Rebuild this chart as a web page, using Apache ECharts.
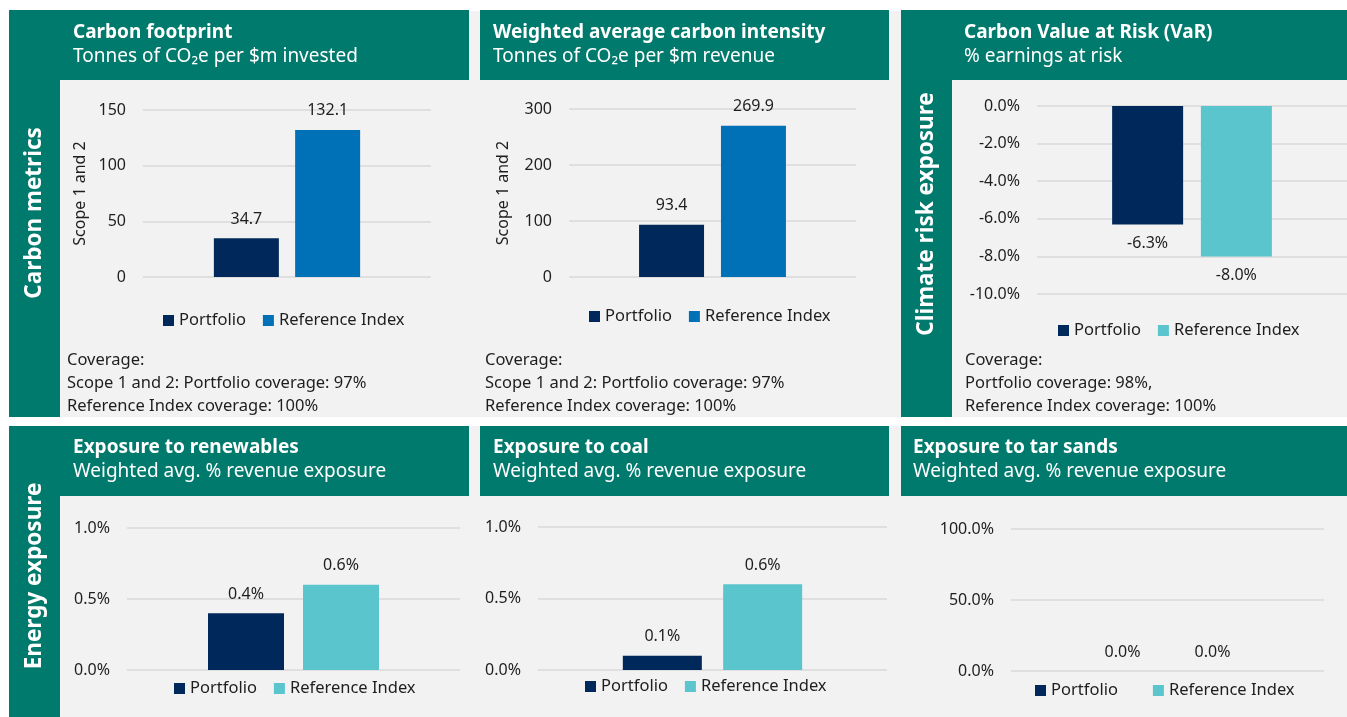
<!DOCTYPE html>
<html>
<head>
<meta charset="utf-8">
<script src="https://cdn.jsdelivr.net/npm/echarts@6/dist/echarts.min.js"></script>
<style>
html,body{margin:0;padding:0;background:#fff;}
#c{width:1347px;height:717px;}
</style>
</head>
<body>
<div id="c"></div>
<script>
// ---------- data ----------
const seriesNames = ['Portfolio', 'Reference Index'];
const carbonFootprint = [34.7, 132.1];
const carbonIntensity = [93.4, 269.9];
const carbonVaR = [-6.3, -8.0];
const renewables = [0.4, 0.6];
const coal = [0.1, 0.6];
const tarSands = [0.0, 0.0];

const panelTitles = ['Carbon footprint', 'Weighted average carbon intensity', 'Carbon Value at Risk (VaR)',
  'Exposure to renewables', 'Exposure to coal', 'Exposure to tar sands'];
const panelSubtitles = ['Tonnes of CO\u2082e per $m invested', 'Tonnes of CO\u2082e per $m revenue', '% earnings at risk',
  'Weighted avg. % revenue exposure', 'Weighted avg. % revenue exposure', 'Weighted avg. % revenue exposure'];
const sectionLabels = ['Carbon metrics', 'Climate risk exposure', 'Energy exposure'];
const coverageTexts = [
  'Coverage:\nScope 1 and 2: Portfolio coverage: 97%\nReference Index coverage: 100%',
  'Coverage:\nScope 1 and 2: Portfolio coverage: 97%\nReference Index coverage: 100%',
  'Coverage:\nPortfolio coverage: 98%,\nReference Index coverage: 100%'
];
const yAxisName = 'Scope 1 and 2';
// axis ranges [min, max, interval]
const axisRanges = [[0, 150, 50], [0, 300, 100], [-10, 0, 2], [0, 1, 0.5], [0, 1, 0.5], [0, 100, 50]];

// ---------- styles ----------
const TEAL = '#007a6c';
const GRAY = '#f2f2f2';
const NAVY = '#00285a';
const BLUE = '#0071b7';
const CYAN = '#5ac5cd';
const TXT = '#1e1e1e';
const FONT = '"Noto Sans", "Open Sans", sans-serif';

const panels = [
  {data: carbonFootprint, grid: {left: 143, top: 110, width: 288, height: 167}, bw: 65, gap: '25%', pct: false, refColor: BLUE, name: true, nameGap: 55, lab: 'top', legend: {left: 163, top: 312, gap: 17}},
  {data: carbonIntensity, grid: {left: 569, top: 109, width: 287, height: 168}, bw: 65, gap: '26%', pct: false, refColor: BLUE, name: true, nameGap: 58, lab: 'top', legend: {left: 589, top: 308, gap: 17}},
  {data: carbonVaR, grid: {left: 1037, top: 106, width: 314, height: 188}, bw: 71, gap: '25%', pct: true, refColor: CYAN, name: false, lab: 'bottom', legend: {left: 1058, top: 322, gap: 17}},
  {data: renewables, grid: {left: 127, top: 528, width: 333, height: 142}, bw: 76, gap: '25%', pct: true, refColor: CYAN, name: false, lab: 'top', legend: {left: 174, top: 680, gap: 17}},
  {data: coal, grid: {left: 538, top: 527, width: 349, height: 143}, bw: 79, gap: '27%', pct: true, refColor: CYAN, name: false, lab: 'top', legend: {left: 585, top: 678, gap: 17}},
  {data: tarSands, grid: {left: 1011, top: 529, width: 313, height: 142}, bw: 72, gap: '25%', pct: true, refColor: CYAN, name: false, lab: 'top', legend: {left: 1035, top: 682, gap: 35}}
];

const grids = [], xAxes = [], yAxes = [], series = [], legends = [];
panels.forEach((p, i) => {
  grids.push(Object.assign({containLabel: false}, p.grid));
  xAxes.push({type: 'category', gridIndex: i, data: [''], axisLine: {show: false}, axisTick: {show: false}, axisLabel: {show: false}});
  const r = axisRanges[i];
  const y = {
    type: 'value', gridIndex: i, min: r[0], max: r[1], interval: r[2],
    axisLine: {show: false}, axisTick: {show: false},
    splitLine: {lineStyle: {color: '#d9d9d9', width: 1.5}},
    axisLabel: {color: TXT, fontSize: 16, fontFamily: FONT, margin: 17,
      formatter: v => p.pct ? v.toFixed(1) + '%' : String(v)}
  };
  if (p.name) {
    Object.assign(y, {name: yAxisName, nameLocation: 'middle', nameGap: p.nameGap,
      nameTextStyle: {color: TXT, fontSize: 16, fontFamily: FONT}});
  }
  yAxes.push(y);
  const colors = [NAVY, p.refColor];
  seriesNames.forEach((nm, k) => {
    series.push({
      type: 'bar', name: nm, xAxisIndex: i, yAxisIndex: i,
      data: [p.data[k]], barWidth: p.bw, barGap: p.gap,
      itemStyle: {color: colors[k]},
      label: {show: true, position: p.lab, distance: 11, color: TXT, fontSize: 16, fontFamily: FONT,
        formatter: o => p.pct ? o.value.toFixed(1) + '%' : o.value.toFixed(1)},
      emphasis: {disabled: true}, animation: false
    });
  });
  legends.push({
    left: p.legend.left, top: p.legend.top, padding: 0, itemGap: p.legend.gap,
    itemWidth: 11, itemHeight: 11, icon: 'rect', selectedMode: false,
    textStyle: {color: TXT, fontSize: 16.5, fontFamily: FONT},
    data: [{name: seriesNames[0], itemStyle: {color: NAVY}}, {name: seriesNames[1], itemStyle: {color: p.refColor}}]
  });
});

// ---------- backgrounds / texts ----------
const rect = (x, y, w, h, c) => ({type: 'rect', shape: {x, y, width: w, height: h}, style: {fill: c}, z: -10, silent: true});
const elements = [
  rect(60, 11, 1287, 406, GRAY),
  rect(60, 426, 1287, 291, GRAY),
  rect(9, 10, 51, 407, TEAL),
  rect(60, 10, 409, 70, TEAL),
  rect(480, 10, 409, 70, TEAL),
  rect(901, 11, 51, 406, TEAL),
  rect(901, 10, 446, 70, TEAL),
  rect(9, 426, 51, 291, TEAL),
  rect(60, 426, 409, 70, TEAL),
  rect(480, 426, 409, 70, TEAL),
  rect(901, 426, 446, 70, TEAL)
];
const titlePos = [[73, 33], [493, 33], [964, 33], [73, 448], [493, 448], [913, 448]];
titlePos.forEach((tp, i) => {
  elements.push({type: 'text', x: tp[0], y: tp[1], z: 10, silent: true,
    style: {text: panelTitles[i], fill: '#fff', font: 'bold 19px ' + FONT, verticalAlign: 'middle', align: 'left'}});
  elements.push({type: 'text', x: tp[0], y: tp[1] + 24, z: 10, silent: true,
    style: {text: panelSubtitles[i], fill: '#fff', font: '19px ' + FONT, verticalAlign: 'middle', align: 'left'}});
});
const sectionPos = [[35, 213], [927, 214], [35, 576]];
sectionPos.forEach((sp, i) => {
  elements.push({type: 'text', x: sp[0], y: sp[1], rotation: Math.PI / 2, z: 10, silent: true,
    style: {text: sectionLabels[i], fill: '#fff', font: 'bold 22.5px ' + FONT, verticalAlign: 'middle', align: 'center'}});
});
const coveragePos = [[67, 349], [485, 349], [965, 349]];
coveragePos.forEach((cp, i) => {
  elements.push({type: 'text', x: cp[0], y: cp[1], z: 10, silent: true,
    style: {text: coverageTexts[i], fill: TXT, font: '16.5px ' + FONT, lineHeight: 23, verticalAlign: 'top', align: 'left'}});
});

const chart = echarts.init(document.getElementById('c'), null, {renderer: 'canvas'});
chart.setOption({
  backgroundColor: '#ffffff',
  animation: false,
  textStyle: {fontFamily: FONT},
  graphic: {elements},
  grid: grids, xAxis: xAxes, yAxis: yAxes, series, legend: legends
});
</script>
</body>
</html>
